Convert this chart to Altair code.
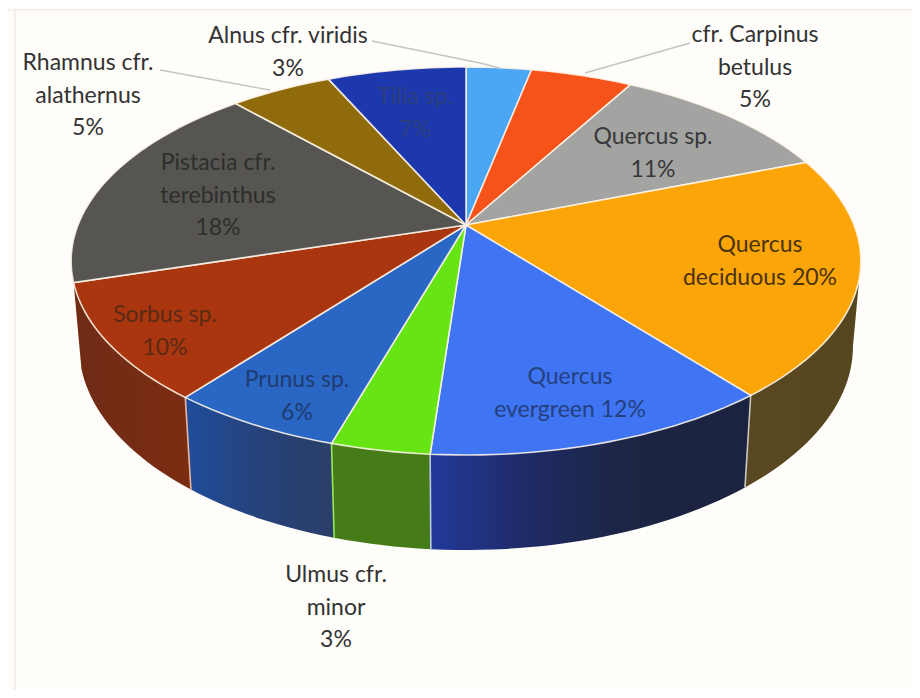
import math
import altair as alt

# Clockwise from twelve o'clock
NAMES = ["Alnus cfr. viridis", "cfr. Carpinus\nbetulus", "Quercus sp.", "Quercus\ndeciduous", "Quercus\nevergreen",
         "Ulmus cfr.\nminor", "Prunus sp.", "Sorbus sp.", "Pistacia cfr.\nterebinthus", "Rhamnus cfr.\nalathernus", "Tilia sp."]
PERCENT_LABELS = ["3%", "5%", "11%", "20%", "12%", "3%", "6%", "10%", "18%", "5%", "7%"]
SHARES = [3.2, 5, 11, 20, 12, 3.4, 6.0, 9.7, 17.9, 5, 6.8]
TOP_COLORS = ["#4ba6f4", "#f6531a", "#a3a3a1", "#fba508", "#3f75f2", "#66e414", "#2a66c4", "#a9360f", "#565551", "#8f6b0b", "#1c38ac"]
TEXT_COLORS = ["#333333", "#333333", "#38383a", "#4a3310", "#24407f", "#333333", "#1f3c70", "#5a2a14", "#2e2e2c", "#333333", "#2c3f7c"]
JOINERS = ["\n", "\n", "\n", " ", " ", "\n", "\n", "\n", "\n", "\n", "\n"]
LABEL_X = [288, 755, 653, 760, 570, 336, 297, 165, 218, 88, 415]
LABEL_Y = [36, 35, 137, 245, 377, 575, 380, 315, 163, 63, 97]

WALLS = {
    3: [(0, "#5a4822"), (1, "#554620")],
    4: [(0, "#22399a"), (0.3, "#1f2b66"), (0.6, "#1d2544"), (1, "#1b2340")],
    5: [(0, "#467c17"), (1, "#467c17")],
    6: [(0, "#1f4d9c"), (0.5, "#27427a"), (1, "#2a3f68")],
    7: [(0, "#702b15"), (1, "#7b2d12")],
}
WALL_EDGE = {4: "#c9c8c0", 5: "#b9c4e6", 6: "#9ae85a", 7: "#eab5a0"}

LEADERS = [[[372, 41], [480, 63], [500, 68]], [[690, 43], [585, 73]], [[160, 70], [270, 90]]]
FRAME = [[[15, 0], [15, 690]], [[0, 10], [912, 10]]]

CX, CY, B, A, K = 466, 225, 388, 187.3, 0.1856


def top(deg):
    t = math.radians(deg)
    d = 1 + K * math.cos(t)
    return [CX + B * math.sin(t) / d, CY - A * math.cos(t) / d]


def bottom(deg):
    x, y = top(deg)
    return [CX + (x - CX) * 0.98, y + 92 + (y - 395) * 0.05]


def arc_angles(a, b):
    n = max(2, int((b - a) / 1.5))
    return [a + (b - a) * i / n for i in range(n + 1)]


def feature(coords, color="#000000", kind="Polygon"):
    geom = [coords + [coords[0]]] if kind == "Polygon" else coords
    return {"type": "Feature", "geometry": {"type": kind, "coordinates": geom}, "properties": {"color": color}}


def geo(features):
    return alt.Data(values={"type": "FeatureCollection", "features": features}, format=alt.DataFormat(property="features"))


PROJ = dict(type="identity", scale=1, translate=[-8, -8])

total = sum(SHARES)
edges = [0]
for s in SHARES:
    edges.append(edges[-1] + s / total * 360)

layers = []
layers.append(alt.Chart(geo([feature(f, kind="LineString") for f in FRAME])).mark_geoshape(filled=False, stroke="#f4f0ea", strokeWidth=2).project(**PROJ))

# side walls
VIS_A, VIS_B = 100.7, 259.3
for i, stops in WALLS.items():
    a, b = max(edges[i], VIS_A), min(edges[i + 1], VIS_B)
    ang = arc_angles(a, b)
    poly = [top(d) for d in ang] + [bottom(d) for d in reversed(ang)]
    grad = alt.Gradient(gradient="linear", x1=0, x2=1, y1=0, y2=0,
                        stops=[alt.GradientStop(offset=o, color=c) for o, c in stops])
    layers.append(alt.Chart(geo([feature(poly)])).mark_geoshape(fill=grad, strokeWidth=0).project(**PROJ))
for i, color in WALL_EDGE.items():
    line = [top(edges[i]), bottom(edges[i])]
    layers.append(alt.Chart(geo([feature(line, kind="LineString")])).mark_geoshape(filled=False, stroke=color, strokeWidth=1.6).project(**PROJ))

# top face
faces = []
for i, color in enumerate(TOP_COLORS):
    faces.append(feature([[CX, CY]] + [top(d) for d in arc_angles(edges[i], edges[i + 1])], color))
layers.append(alt.Chart(geo(faces)).mark_geoshape(stroke="#fff6ea", strokeWidth=1.6, strokeOpacity=0.85).encode(
    fill=alt.Fill("properties.color:N", scale=None)).project(**PROJ))

# leader lines
layers.append(alt.Chart(geo([feature(l, kind="LineString") for l in LEADERS])).mark_geoshape(filled=False, stroke="#c4c4c2", strokeWidth=1.4).project(**PROJ))

rows = [{"t": n + j + p, "lon": x, "lat": y, "c": c}
        for n, j, p, x, y, c in zip(NAMES, JOINERS, PERCENT_LABELS, LABEL_X, LABEL_Y, TEXT_COLORS)]
layers.append(alt.Chart(alt.Data(values=rows)).mark_text(font="Lato", fontSize=23, lineBreak="\n", lineHeight=32.5, align="center", baseline="middle").encode(
    longitude="lon:Q", latitude="lat:Q", text="t:N", color=alt.Color("c:N", scale=None)).project(**PROJ))

chart = alt.layer(*layers).properties(width=904, height=682, padding=0, background="#fefdf9").configure_view(stroke=None)
chart.save("out.html", embed_options={"renderer": "svg", "actions": False})
